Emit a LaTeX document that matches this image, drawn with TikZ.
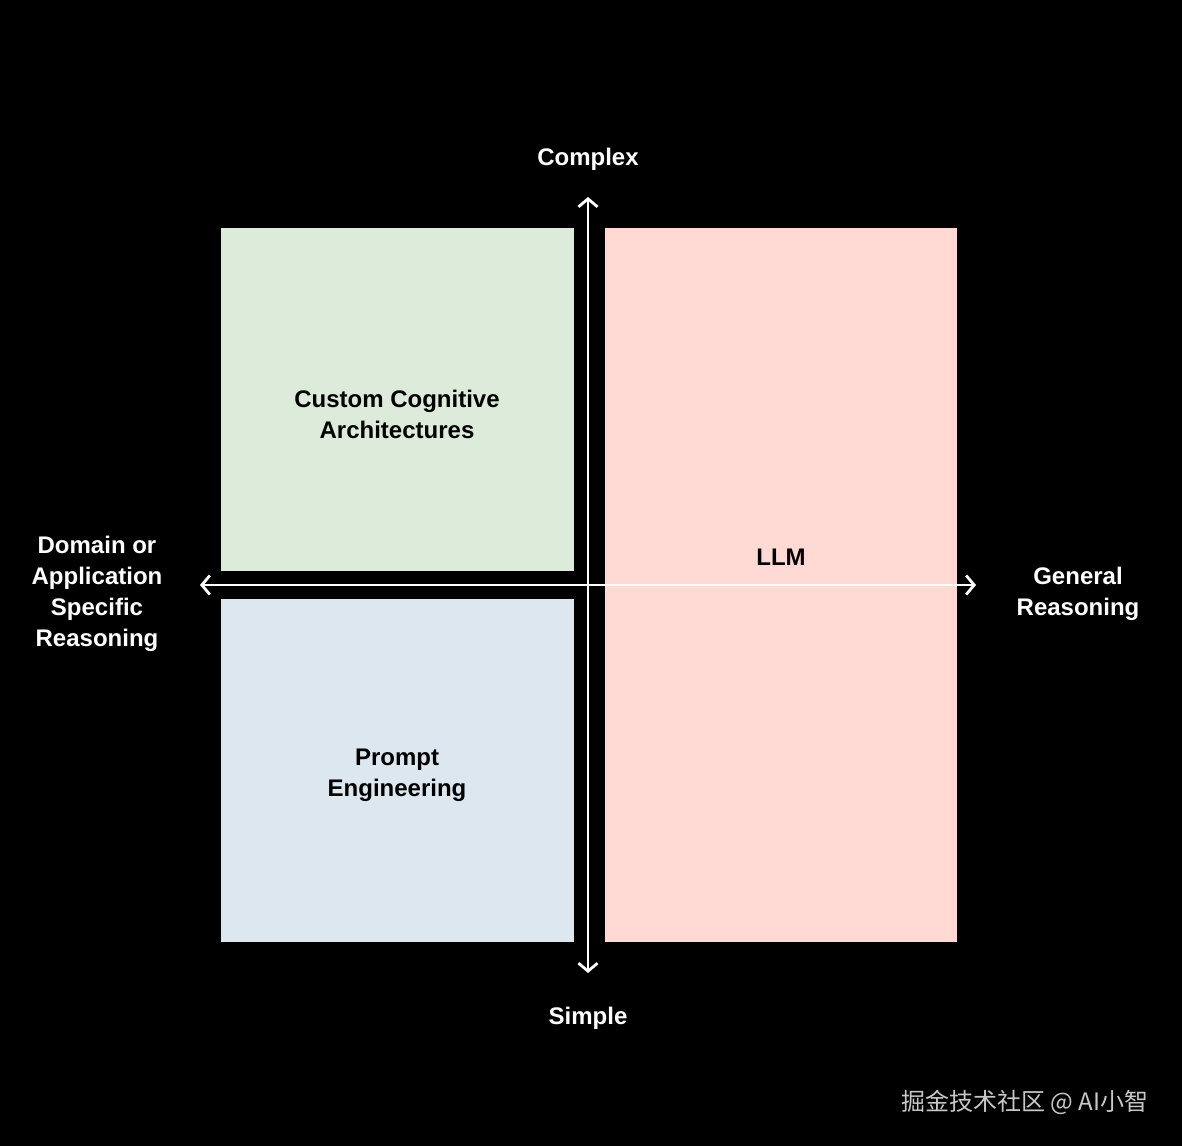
\documentclass[tikz,border=0pt]{standalone}
\usepackage{fontspec}
\setmainfont{Liberation Sans}
\newfontfamily\cjk{Noto Sans CJK SC}
\usetikzlibrary{arrows.meta}
\definecolor{boxgreen}{HTML}{DDEBDA}
\definecolor{boxblue}{HTML}{DCE7F0}
\definecolor{boxpink}{HTML}{FFD9D3}
\definecolor{wmgray}{HTML}{C8C8C8}
\begin{document}
\begin{tikzpicture}[x=1pt,y=-1pt,
  quad/.style={draw=none,anchor=north west,inner sep=0pt},
  boxlabel/.style={text=black,font=\fontsize{24}{31}\selectfont\bfseries,align=center},
  axislabel/.style={text=white,font=\fontsize{24}{31}\selectfont\bfseries,align=center},
  axisline/.style={draw=white,line width=2.8pt,{Straight Barb[length=8pt,width=19pt,line width=2.8pt]}-{Straight Barb[length=8pt,width=19pt,line width=2.8pt]}}]
\fill[black] (0,0) rectangle (1182,1146);
\useasboundingbox (0,0) rectangle (1182,1146);
\node[quad,fill=boxgreen,minimum width=353pt,minimum height=343pt] (green) at (221,228) {};
\node[quad,fill=boxblue,minimum width=353pt,minimum height=343pt] (blue) at (221,599) {};
\node[quad,fill=boxpink,minimum width=352pt,minimum height=714pt] (pink) at (605,228) {};
\coordinate (left) at (200,585);
\coordinate (right) at (976,585);
\coordinate (top) at (588,197);
\coordinate (bottom) at (588,973);
\draw[axisline] (left) -- (right);
\draw[axisline] (top) -- (bottom);
\node[boxlabel] (ccalabel) at (397,414) {Custom Cognitive\\Architectures};
\node[boxlabel] (pelabel) at (397,775) {Prompt\\Engineering};
\node[boxlabel] (llmlabel) at (781,557) {LLM};
\node[axislabel] (complex) at (588,159) {Complex};
\node[axislabel] (simple) at (588,1018) {Simple};
\node[axislabel] (domain) at (97,594) {Domain or\\Application\\Specific\\Reasoning};
\node[axislabel] (general) at (1078,594) {General\\Reasoning};
\node[text=wmgray,font=\cjk\fontsize{24}{28}\selectfont,anchor=east] (wm) at (1152,1102) {掘金技术社区 @ AI小智};
\end{tikzpicture}
\end{document}
